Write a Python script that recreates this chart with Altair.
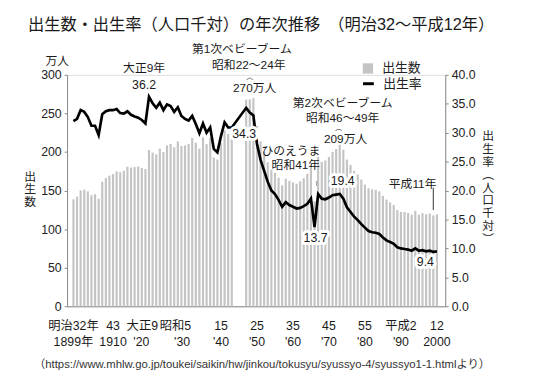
import altair as alt
import pandas as pd

# ---------------- data ----------------
years = [1899, 1900, 1901, 1902, 1903, 1904, 1905, 1906, 1907, 1908, 1909,
         1910, 1911, 1912, 1913, 1914, 1915, 1916, 1917, 1918, 1919,
         1920, 1921, 1922, 1923, 1924, 1925, 1926, 1927, 1928, 1929,
         1930, 1931, 1932, 1933, 1934, 1935, 1936, 1937, 1938, 1939,
         1940, 1941, 1942, 1943, 1947, 1948, 1949,
         1950, 1951, 1952, 1953, 1954, 1955, 1956, 1957, 1958, 1959,
         1960, 1961, 1962, 1963, 1964, 1965, 1966, 1967, 1968, 1969,
         1970, 1971, 1972, 1973, 1974, 1975, 1976, 1977, 1978, 1979,
         1980, 1981, 1982, 1983, 1984, 1985, 1986, 1987, 1988, 1989,
         1990, 1991, 1992, 1993, 1994, 1995, 1996, 1997, 1998, 1999, 2000]

births = [138.7, 142.1, 150.2, 151.1, 149.0, 144.0, 145.3, 139.4, 161.4, 166.3, 169.4,
          171.3, 174.8, 173.8, 175.7, 180.8, 179.9, 180.5, 181.2, 179.2, 177.9,
          202.6, 199.1, 196.9, 204.3, 199.9, 208.6, 210.4, 206.1, 213.6, 207.7,
          208.5, 210.3, 218.3, 212.1, 204.4, 219.1, 210.2, 218.1, 192.8, 190.2,
          211.6, 227.7, 223.4, 225.4, 267.9, 268.2, 269.7,
          233.8, 213.8, 200.5, 186.8, 177.0, 173.1, 166.5, 156.7, 165.3, 162.6,
          160.6, 158.9, 161.9, 166.0, 171.7, 182.4, 136.1, 193.6, 187.2, 189.0,
          193.4, 200.1, 203.9, 209.2, 203.0, 190.1, 183.3, 175.5, 170.9, 164.3,
          157.7, 152.9, 151.5, 150.9, 149.0, 143.2, 138.3, 134.7, 131.4, 124.7,
          122.2, 122.3, 120.9, 118.8, 123.8, 118.7, 120.7, 119.2, 120.3, 117.8, 119.1]

rates = [32.0, 32.4, 33.9, 33.6, 32.7, 31.2, 31.2, 29.6, 33.2, 33.7, 33.9,
         33.9, 34.1, 33.4, 33.3, 33.7, 33.1, 32.8, 32.6, 32.2, 31.6,
         36.2, 35.1, 34.3, 35.2, 33.9, 34.9, 34.6, 33.6, 34.4, 32.9,
         32.4, 32.1, 32.9, 31.5, 29.9, 31.6, 30.0, 30.9, 27.2, 26.6,
         29.4, 31.8, 30.9, 30.9, 34.3, 33.5, 33.0,
         28.1, 25.3, 23.4, 21.5, 20.0, 19.4, 18.4, 17.2, 18.0, 17.5,
         17.2, 16.9, 17.0, 17.3, 17.7, 18.6, 13.7, 19.4, 18.6, 18.5,
         18.8, 19.2, 19.3, 19.4, 18.6, 17.1, 16.3, 15.5, 14.9, 14.2,
         13.6, 13.0, 12.8, 12.7, 12.5, 11.9, 11.4, 11.1, 10.8, 10.2,
         10.0, 9.9, 9.8, 9.6, 10.0, 9.6, 9.7, 9.5, 9.6, 9.4, 9.5]

tick_years = [1899, 1910, 1920, 1930, 1940, 1950, 1960, 1970, 1980, 1990, 2000]
tick_era = ["明治32年", "43", "大正9", "昭和5", "15", "25", "35", "45", "55", "平成2", "12"]
tick_west = ["1899年", "1910", "'20", "'30", "'40", "'50", "'60", "'70", "'80", "'90", "2000"]

births_ticks = [0, 50, 100, 150, 200, 250, 300]
rate_ticks = [0, 5, 10, 15, 20, 25, 30, 35, 40]

# ---------------- style ----------------
FONT = "Liberation Sans, Noto Sans CJK JP, sans-serif"
W, H = 384, 235
PX_PER_YEAR = W / (2000.95 - 1898.6)
nudge_era = {"大正9": -7, "昭和5": -10}
nudge_west = {"'20": -8, "'30": -3}

df = pd.DataFrame({"year": years, "births": births, "rate": rates})
df["s1"] = "出生数"
df["s2"] = "出生率"

ticks = pd.DataFrame({"year": tick_years, "era": tick_era, "west": tick_west})
ticks["lx_era"] = ticks["year"] + ticks["era"].map(nudge_era).fillna(0) / PX_PER_YEAR
ticks["lx_west"] = ticks["year"] + ticks["west"].map(nudge_west).fillna(0) / PX_PER_YEAR

xscale = alt.Scale(domain=[1898.6, 2000.95], nice=False, zero=False)
ybs = alt.Scale(domain=[0, 300], nice=False)
yrs = alt.Scale(domain=[0, 40], nice=False)

XAX = alt.Axis(labels=False, ticks=False, grid=False, domain=True,
               domainColor="#8a8a8a", domainWidth=1, title=None)
YBAX = alt.Axis(values=births_ticks, grid=False, domainColor="#8a8a8a", tickColor="#8a8a8a",
                tickSize=3, labelPadding=3, labelFont=FONT, labelFontSize=12.5,
                labelColor="#222", title=["出", "生", "数"], titleAngle=0,
                titleX=-38, titleY=98, titleAlign="center", titleBaseline="top",
                titleFont=FONT, titleFontSize=12, titleFontWeight="normal",
                titleLineHeight=12.8, titleColor="#222")
YRAX = alt.Axis(orient="right", values=rate_ticks, format=".1f", grid=False,
                domainColor="#8a8a8a", tickColor="#8a8a8a", tickSize=3, labelPadding=3,
                labelFont=FONT, labelFontSize=12.5, labelColor="#222",
                title=["出", "生", "率", "︵", "人", "口", "千", "対", "︶"], titleAngle=0,
                titleX=43, titleY=57, titleAlign="center", titleBaseline="top",
                titleFont=FONT, titleFontSize=12, titleFontWeight="normal",
                titleLineHeight=13, titleColor="#222")
SC = {"births": (ybs, YBAX), "rate": (yrs, YRAX)}


def X(field="year"):
    return alt.X(f"{field}:Q", scale=xscale, axis=XAX)


def label(field, year, txt=None, dx=0, dy=0, size=12, halo=False, fmt=".1f"):
    sc, ax = SC[field]
    base = alt.Chart(df).transform_filter(alt.datum.year == year)
    enc = dict(x=X(), y=alt.Y(f"{field}:Q", scale=sc, axis=ax))
    if txt is None:
        enc["text"] = alt.Text(f"{field}:Q", format=fmt)
        props = {}
    else:
        props = {"text": txt}
    out = []
    if halo:
        out.append(base.mark_text(dx=dx, dy=dy, font=FONT, fontSize=size, fill="white",
                                  stroke="white", strokeWidth=6, strokeJoin="round", **props).encode(**enc))
    out.append(base.mark_text(dx=dx, dy=dy, font=FONT, fontSize=size, color="#1a1a1a", **props).encode(**enc))
    return out


# ---------------- left group: births ----------------
bars = alt.Chart(df).mark_bar(width=2.2).encode(
    x=X(),
    y=alt.Y("births:Q", scale=ybs, axis=YBAX),
    color=alt.Color("s1:N", scale=alt.Scale(domain=["出生数"], range=["#c4c4c4"]),
                    legend=alt.Legend(title=None, orient="none", legendX=299, legendY=-13,
                                      symbolType="square", symbolSize=110, symbolStrokeWidth=0,
                                      labelFont=FONT, labelFontSize=13, labelOffset=8,
                                      labelColor="#222", padding=0)),
)

leader = alt.Chart(df).transform_filter(alt.datum.year == 1999).transform_calculate(
    lo="datum.births + 7", hi="datum.births + 36"
).mark_rule(color="#333", strokeWidth=1).encode(
    x=X(), y=alt.Y("lo:Q", scale=ybs, axis=YBAX), y2="hi:Q")

tick_era_layer = alt.Chart(ticks).mark_text(font=FONT, fontSize=12.5, color="#1a1a1a").encode(
    x=X("lx_era"), y=alt.value(H + 20), text="era:N")
tick_west_layer = alt.Chart(ticks).mark_text(font=FONT, fontSize=12.5, color="#1a1a1a").encode(
    x=X("lx_west"), y=alt.value(H + 36), text="west:N")

title = alt.Chart(pd.DataFrame({"t": ["出生数・出生率（人口千対）の年次推移　（明治32〜平成12年）"]})).mark_text(
    font=FONT, fontSize=16.5, color="#1a1a1a").encode(text="t:N", x=alt.value(197), y=alt.value(-51))
unit = alt.Chart(pd.DataFrame({"t": ["万人"]})).mark_text(font=FONT, fontSize=12, color="#1a1a1a").encode(
    text="t:N", x=alt.value(-10), y=alt.value(-14))
source = alt.Chart(pd.DataFrame({"t": ["（https://www.mhlw.go.jp/toukei/saikin/hw/jinkou/tokusyu/syussyo-4/syussyo1-1.htmlより）"]})).mark_text(
    font=FONT, fontSize=11.5, color="#333").encode(text="t:N", x=alt.value(198), y=alt.value(H + 60))

left_layers = [bars, leader, tick_era_layer, tick_west_layer, title, unit, source]
left_layers += label("births", 1948, "第1次ベビーブーム", dx=-8, dy=-51)
left_layers += label("births", 1948, "昭和22〜24年", dx=-1, dy=-35)
left_layers += label("births", 1948, "︿", dx=0, dy=-23, size=7)
left_layers += label("births", 1948, "270万人", dx=5, dy=-11)
left_layers += label("births", 1973, "第2次ベビーブーム", dx=3, dy=-42)
left_layers += label("births", 1973, "昭和46〜49年", dx=3, dy=-27)
left_layers += label("births", 1973, "︵", dx=-1, dy=-17, size=7)
left_layers += label("births", 1973, "209万人", dx=6, dy=-6)
left_layers += label("births", 1999, "平成11年", dx=-21, dy=-32)
left = alt.layer(*left_layers)

# ---------------- right group: rate ----------------
line = alt.Chart(df).mark_line(strokeWidth=2.7, strokeJoin="miter").encode(
    x=X(),
    y=alt.Y("rate:Q", scale=yrs, axis=YRAX),
    stroke=alt.Stroke("s2:N", scale=alt.Scale(domain=["出生率"], range=["#000000"]),
                      legend=alt.Legend(title=None, orient="none", legendX=299, legendY=2,
                                        symbolType="stroke", symbolSize=121, symbolStrokeWidth=3,
                                        labelFont=FONT, labelFontSize=13, labelOffset=8,
                                        labelColor="#222", padding=0)),
)

right_layers = [line]
right_layers += label("rate", 1920, "大正9年", dx=-5, dy=-29)
right_layers += label("rate", 1920, None, dx=-5, dy=-12, size=12.5)
right_layers += label("rate", 1947, None, dx=-2, dy=27, halo=True, size=12.5)
right_layers += label("rate", 1966, "ひのえうま", dx=-24, dy=-77)
right_layers += label("rate", 1966, "昭和41年", dx=-19, dy=-63)
right_layers += label("rate", 1966, "|", dx=2, dy=-45, size=6)
right_layers += label("rate", 1966, None, dx=1, dy=11, halo=True, size=12.5)
right_layers += label("rate", 1973, None, dx=3, dy=-13, halo=True, size=12.5)
right_layers += label("rate", 1999, None, dx=-8, dy=10, halo=True, size=12.5)
right = alt.layer(*right_layers)

chart = alt.layer(left, right).resolve_scale(y="independent").properties(
    width=W, height=H,
    autosize=alt.AutoSizeParams(type="none"),
    padding={"left": 60, "top": 65, "right": 81, "bottom": 74},
).configure_view(stroke=None).configure(background="white")

chart.save("out.html", embed_options={"renderer": "svg", "actions": False})
